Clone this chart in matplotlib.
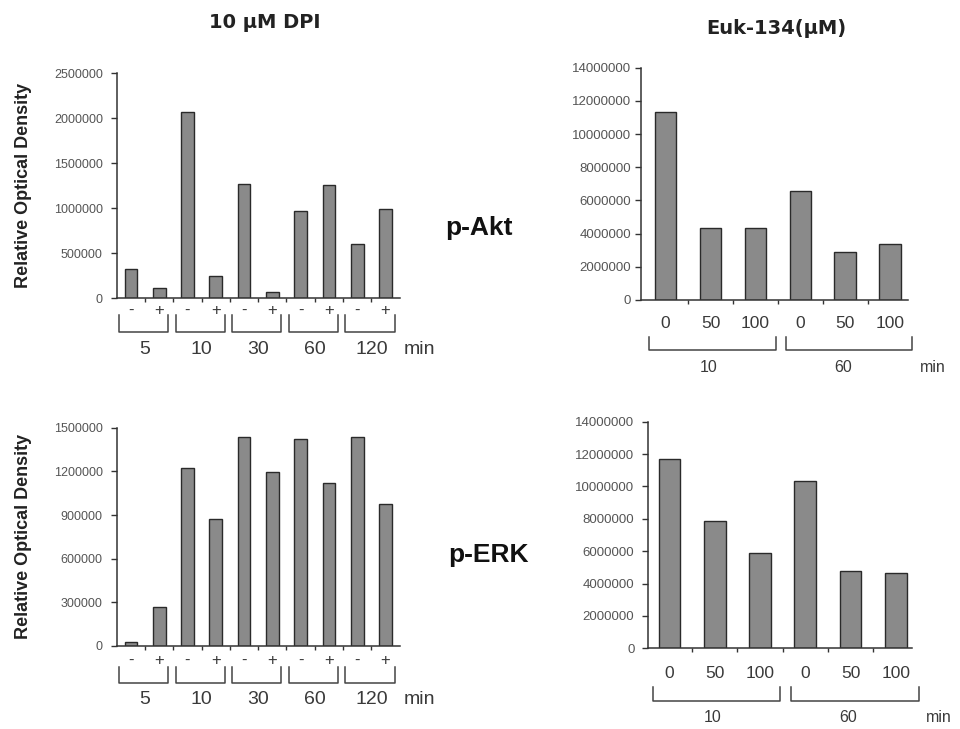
import matplotlib
matplotlib.use("Agg")
import matplotlib.pyplot as plt
from matplotlib.transforms import blended_transform_factory as btf
import numpy as np

plt.rcParams['font.family'] = ['Liberation Sans', 'DejaVu Sans']

# ---------------- data ----------------
time_groups = ["5", "10", "30", "60", "120"]
treat_labels = ["-", "+"]
akt_dpi = [323000, 119000, 2074000, 249000, 1275000, 74000, 967000, 1264000, 602000, 989000]
erk_dpi = [27000, 266000, 1225000, 875000, 1436000, 1195000, 1420000, 1118000, 1436000, 976000]
akt_dpi_ticks = [0, 500000, 1000000, 1500000, 2000000, 2500000]
erk_dpi_ticks = [0, 300000, 600000, 900000, 1200000, 1500000]

euk_doses = ["0", "50", "100", "0", "50", "100"]
euk_times = ["10", "60"]
akt_euk = [11310000, 4360000, 4360000, 6570000, 2910000, 3390000]
erk_euk = [11710000, 7880000, 5900000, 10310000, 4760000, 4680000]
euk_ticks = [0, 2000000, 4000000, 6000000, 8000000, 10000000, 12000000, 14000000]

BAR = "#8a8a8a"
EDGE = "#2a2a2a"
AX = "#333333"
TXT = "#3a3a3a"

fig = plt.figure(figsize=(9.6, 7.29), dpi=100)


def style(ax, ticks, ylim, xlim, n, fs, pad):
    ax.set_ylim(ylim)
    ax.set_xlim(xlim)
    for s in ["top", "right"]:
        ax.spines[s].set_visible(False)
    for s in ["left", "bottom"]:
        ax.spines[s].set_color(AX)
        ax.spines[s].set_linewidth(1.1)
    ax.set_yticks(ticks)
    ax.set_yticklabels([str(t) for t in ticks], fontsize=fs, color="#555555")
    ax.tick_params(axis="y", direction="out", length=4, width=1, color=AX, pad=pad)
    ax.set_xticks(np.arange(n - 1) + 0.5)
    ax.set_xticklabels([])
    ax.tick_params(axis="x", direction="out", length=3, width=1, color=AX)


def bracket(ax, x0, x1, ytop, ybot):
    tr = btf(ax.transData, fig.transFigure)
    ax.plot([x0, x0, x1, x1], [ytop, ybot, ybot, ytop], color="#444444",
            lw=1.1, transform=tr, clip_on=False)


def fy(p):
    return 1 - p / 729.0


# ---------------- left panels (DPI) ----------------
def dpi_panel(rect, vals, ticks, y_pm, y_br_top, y_br_bot, y_num):
    ax = fig.add_axes(rect)
    x = np.arange(len(vals))
    ax.bar(x, vals, width=0.45, color=BAR, edgecolor=EDGE, linewidth=1.0)
    style(ax, ticks, (0, ticks[-1]), (-0.5, 9.5), len(vals), 9, 6)
    tr = btf(ax.transData, fig.transFigure)
    for i in range(len(vals)):
        ax.text(x[i], fy(y_pm), treat_labels[i % 2], transform=tr, ha="center",
                va="center", fontsize=12, color=TXT)
    for g, lab in enumerate(time_groups):
        bracket(ax, 2 * g - 0.42, 2 * g + 1.32, fy(y_br_top), fy(y_br_bot))
        ax.text(2 * g + 0.5, fy(y_num), lab, transform=tr, ha="center",
                va="center", fontsize=14, color=TXT)
    ax.text(10.2, fy(y_num), "min", transform=tr, ha="center", va="center",
            fontsize=14, color=TXT)
    ax.set_ylabel("Relative Optical Density", fontsize=13, fontweight="bold",
                  color="#222222")
    ax.yaxis.set_label_coords(-0.30, 0.5)
    return ax


ax1 = dpi_panel([0.1216, 0.5908, 0.2947, 0.3087], akt_dpi, akt_dpi_ticks,
                310, 315, 332, 350)
ax2 = dpi_panel([0.1216, 0.1139, 0.2947, 0.2994], erk_dpi, erk_dpi_ticks,
                660, 667, 683, 700)


# ---------------- right panels (Euk-134) ----------------
def euk_panel(rect, vals, xlim, y_dose, y_br_top, y_br_bot, y_time, pad):
    ax = fig.add_axes(rect)
    x = np.arange(len(vals))
    ax.bar(x, vals, width=0.48, color=BAR, edgecolor=EDGE, linewidth=1.0)
    style(ax, euk_ticks, (0, euk_ticks[-1]), xlim, len(vals), 9.5, pad)
    tr = btf(ax.transData, fig.transFigure)
    for i, d in enumerate(euk_doses):
        ax.text(x[i], fy(y_dose), d, transform=tr, ha="center", va="center",
                fontsize=12.5, color=TXT)
    for g, lab in enumerate(euk_times):
        bracket(ax, 3 * g - 0.37 + 0.05 * g, 3 * g + 2.45 + 0.05 * g,
                fy(y_br_top), fy(y_br_bot))
        ax.text(3 * g + 0.95, fy(y_time), lab, transform=tr, ha="center",
                va="center", fontsize=11.5, color=TXT)
    ax.text(5.95, fy(y_time), "min", transform=tr, ha="center", va="center",
            fontsize=11.5, color=TXT)
    return ax


ax3 = euk_panel([0.6677, 0.5885, 0.2781, 0.3187], akt_euk, (-0.55, 5.4),
                323, 337, 350, 368, 3)
ax4 = euk_panel([0.6753, 0.1107, 0.2744, 0.3108], erk_euk, (-0.47, 5.35),
                673, 687, 701, 717, 6)

# ---------------- titles / labels ----------------
fig.text(265 / 960, fy(22), "10 µM DPI", ha="center", va="center",
         fontsize=14, fontweight="bold", color="#222222", family="DejaVu Sans")
fig.text(776 / 960, fy(28), "Euk-134(µM)", ha="center", va="center",
         fontsize=14, fontweight="bold", color="#222222", family="DejaVu Sans")
fig.text(479 / 960, fy(228), "p-Akt", ha="center", va="center",
         fontsize=19, fontweight="bold", color="#111111")
fig.text(488 / 960, fy(555), "p-ERK", ha="center", va="center",
         fontsize=19, fontweight="bold", color="#111111")

fig.savefig("out.png", dpi=100, facecolor="white")
